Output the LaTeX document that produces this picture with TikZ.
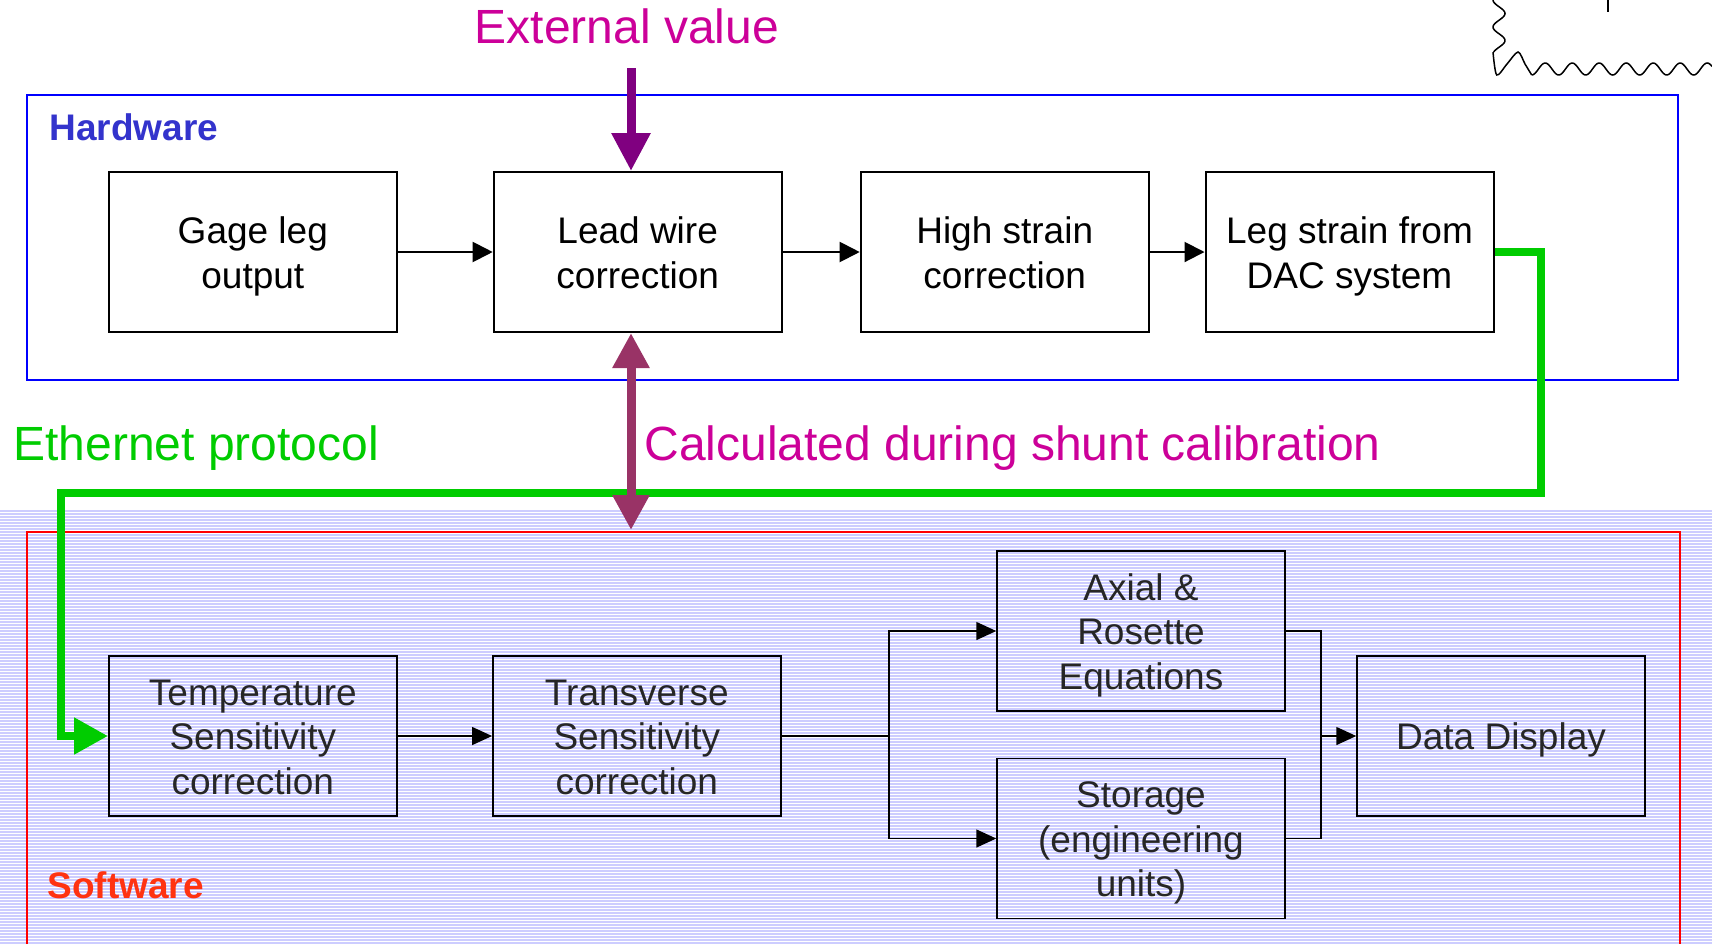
\documentclass[tikz,border=0pt]{standalone}
\usepackage{fontspec}
\setmainfont{Liberation Sans}
\usetikzlibrary{arrows.meta}
\definecolor{hwblue}{RGB}{0,0,255}
\definecolor{hwtext}{RGB}{51,51,204}
\definecolor{swred}{RGB}{255,0,0}
\definecolor{swtext}{RGB}{255,51,17}
\definecolor{notemagenta}{RGB}{204,0,153}
\definecolor{extpurple}{RGB}{128,0,128}
\definecolor{shuntmaroon}{RGB}{153,51,102}
\definecolor{ethgreen}{RGB}{0,204,0}
\definecolor{stripe}{RGB}{205,205,255}
\newcommand{\boxtopstrut}{\rule{0pt}{19pt}}
\newcommand{\boxbotstrut}{\rule[-5.2pt]{0pt}{5.2pt}}
\tikzset{
	block/.style={draw, line width=1pt, minimum width=144pt, minimum height=80pt, align=center, inner sep=0pt,
		font=\fontsize{18.5pt}{22.2pt}\selectfont, execute at begin node=\boxtopstrut, execute at end node=\boxbotstrut},
	swblock/.style={block, line width=0.75pt, text=black!85},
	flow/.style={line width=1pt, -{Triangle[length=10pt,width=10pt]}},
	swflow/.style={line width=0.75pt, -{Triangle[length=10pt,width=9pt]}},
	note/.style={font=\fontsize{24pt}{28pt}\selectfont, anchor=base west, inner sep=0pt},
	region/.style={font=\bfseries\fontsize{18.5pt}{22pt}\selectfont, anchor=base west, inner sep=0pt}
}
\begin{document}
\begin{tikzpicture}[x=0.5pt,y=-0.5pt]
	\useasboundingbox (0,0) rectangle (1712,944);
	
	% striped background of the software part
	\foreach \y in {511,514,...,944}
		\draw[stripe, line width=0.7pt] (0,\y) -- (1712,\y);
	
	% torn edge, top right
	\draw[line width=0.75pt] plot[smooth, samples=40, domain=0:52] ({1499-6*cos(\x/27*360)},\x);
	\draw[line width=0.75pt] plot[smooth] coordinates {(1493,52) (1496.7,75) (1507,64) (1518,52) (1525,64) (1531.7,75)};
	\draw[line width=0.75pt] plot[smooth, samples=150, domain=0:180.3] ({1531.7+\x},{69+6*cos(\x/27*360)});
	\draw[line width=0.75pt] (1608,0) -- (1608,12);
	
	% regions
	\draw[hwblue, line width=1pt] (27,95) rectangle (1678,380);
	\draw[swred, line width=1pt] (27,944) -- (27,532) -- (1680,532) -- (1680,944);
	\node[region, text=hwtext] (hwlabel) at (49,140) {Hardware};
	\node[region, text=swtext] (swlabel) at (47,898) {Software};
	
	% hardware chain
	\node[block] (gage) at (252.8,252) {\boxtopstrut Gage leg\\output};
	\node[block] (lead) at (637.7,252) {\boxtopstrut Lead wire\\correction};
	\node[block] (highstrain) at (1004.7,252) {\boxtopstrut High strain\\correction};
	\node[block] (legstrain) at (1349.5,252) {\boxtopstrut Leg strain from\\DAC system};
	\draw[flow] (gage.east) -- (lead.west);
	\draw[flow] (lead.east) -- (highstrain.west);
	\draw[flow] (highstrain.east) -- (legstrain.west);
	
	% software chain
	\node[swblock] (tempsens) at (252.8,736) {\boxtopstrut Temperature\\Sensitivity\\correction};
	\node[swblock] (transsens) at (636.8,736) {\boxtopstrut Transverse\\Sensitivity\\correction};
	\node[swblock] (axial) at (1141,631) {\boxtopstrut Axial \&\\Rosette\\Equations};
	\node[swblock] (storage) at (1141,838.5) {\boxtopstrut Storage\\(engineering\\units)};
	\node[swblock] (display) at (1501,736) {Data Display};
	\coordinate (split) at (889,736);
	\coordinate (merge) at (1321,736);
	\draw[swflow] (tempsens.east) -- (transsens.west);
	\draw[line width=0.75pt] (transsens.east) -- (split);
	\draw[swflow] (split) |- (axial.west);
	\draw[swflow] (split) |- (storage.west);
	\draw[line width=0.75pt] (axial.east) -| (merge);
	\draw[line width=0.75pt] (storage.east) -| (merge);
	\draw[swflow] (merge) -- (display.west);
	
	% notes and their arrows
	\node[note, text=notemagenta, anchor=base] (extval) at (627,43) {External value};
	\node[note, text=ethgreen] (ethlabel) at (13,460) {Ethernet protocol};
	\node[note, text=notemagenta] (shuntlabel) at (644,460) {Calculated during shunt calibration};
	\coordinate (extin) at (631,68);
	\coordinate (shuntend) at (631,530);
	\draw[extpurple, line width=4.5pt, -{Triangle[length=19pt,width=18.5pt]}] (extin) -- (extin |- lead.north);
	\draw[ethgreen, line width=4pt, -{Triangle[length=17pt,width=17.5pt]}] (legstrain.east) -- ++(46,0) |- (61,493) |- (tempsens.west);
	\draw[shuntmaroon, line width=4.5pt, {Triangle[length=17.5pt,width=17.5pt]}-{Triangle[length=17.5pt,width=17.5pt]}] (shuntend |- lead.south) -- (shuntend);
\end{tikzpicture}
\end{document}
